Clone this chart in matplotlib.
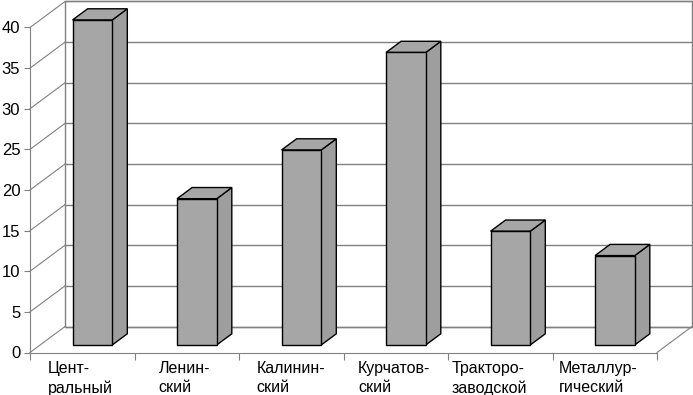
import numpy as np
import matplotlib
matplotlib.use("Agg")
import matplotlib.pyplot as plt
from matplotlib.patches import Polygon

plt.rcParams['font.family'] = ['Liberation Sans', 'DejaVu Sans']

# districts and values
labels = ['Цент-\nральный', 'Ленин-\nский', 'Калинин-\nский',
          'Курчатов-\nский', 'Тракторо-\nзаводской', 'Металлур-\nгический']
values = [40, 18, 24, 36, 14, 11]
yticks = np.arange(0, 41, 5)

# pseudo-3d geometry (in data units)
DX, DY = 0.335, 3.2       # depth of the floor
W = 0.38                  # bar width
F0, FD = 0.29, 0.43       # bar start / depth as fraction of floor depth
label_dx = [0.17, 0.23, 0.17, 0.14, 0.03, 0.06]   # left edge of each label in its slot
grid_c = '#808080'
bar_c = '#A6A6A6'
side_c = '#9E9E9E'

fig = plt.figure(figsize=(6.93, 3.95), dpi=100)
ax = fig.add_axes([30 / 693, (395 - 352.5) / 395, 627 / 693, 325 / 395])
n = len(values)
ax.set_xlim(0, n)
ax.set_ylim(0, 40)

# back wall
wall = Polygon([(DX, DY), (n + DX, DY), (n + DX, 40 + DY), (DX, 40 + DY)],
               closed=True, facecolor='white', edgecolor=grid_c, lw=1,
               clip_on=False, zorder=1)
ax.add_patch(wall)
for v in yticks:
    ax.plot([DX, n + DX], [v + DY, v + DY], color=grid_c, lw=1, clip_on=False, zorder=2)
    ax.plot([0, DX], [v, v + DY], color=grid_c, lw=0.8, clip_on=False, zorder=2)
# floor right edge
ax.plot([n, n + DX], [0, DY], color=grid_c, lw=0.8, clip_on=False, zorder=2)

# bars
for i, v in enumerate(values):
    x0 = i + 0.5 - W / 2 + F0 * DX
    y0 = F0 * DY
    ddx, ddy = FD * DX, FD * DY
    front = Polygon([(x0, y0), (x0 + W, y0), (x0 + W, y0 + v), (x0, y0 + v)],
                    closed=True, facecolor=bar_c, edgecolor='black', lw=1,
                    clip_on=False, zorder=5)
    side = Polygon([(x0 + W, y0), (x0 + W + ddx, y0 + ddy),
                    (x0 + W + ddx, y0 + v + ddy), (x0 + W, y0 + v)],
                   closed=True, facecolor=side_c, edgecolor='black', lw=1,
                   clip_on=False, zorder=4)
    top = Polygon([(x0, y0 + v), (x0 + W, y0 + v),
                   (x0 + W + ddx, y0 + v + ddy), (x0 + ddx, y0 + v + ddy)],
                  closed=True, facecolor=bar_c, edgecolor='black', lw=1,
                  clip_on=False, zorder=4)
    for p in (side, top, front):
        ax.add_patch(p)

# axes
for s in ['top', 'right']:
    ax.spines[s].set_visible(False)
ax.spines['left'].set_color(grid_c)
ax.spines['bottom'].set_color(grid_c)
ax.spines['left'].set_zorder(3)
ax.spines['bottom'].set_zorder(3)
ax.set_facecolor('none')
ax.set_yticks(yticks)
ax.set_xticks(np.arange(0, n + 1))
ax.set_xticklabels([])
ax.tick_params(axis='y', direction='out', length=4, color=grid_c, labelsize=12, pad=3)
ax.tick_params(axis='x', direction='out', length=5, color=grid_c)

for i, lab in enumerate(labels):
    ax.text(i + label_dx[i], -1.1, lab, ha='left', va='top',
            fontsize=11.5, linespacing=1.3)

fig.savefig('out.png', dpi=100)
